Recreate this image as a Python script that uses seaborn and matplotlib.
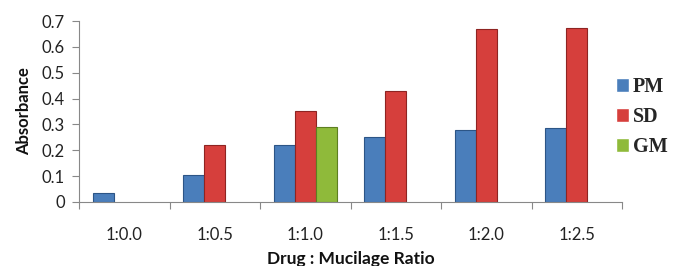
import matplotlib
matplotlib.use("Agg")
import matplotlib.pyplot as plt
import seaborn as sns
import numpy as np
import pandas as pd

categories = ["1:0.0", "1:0.5", "1:1.0", "1:1.5", "1:2.0", "1:2.5"]
pm = [0.035, 0.104, 0.219, 0.251, 0.277, 0.285]
sd = [np.nan, 0.220, 0.353, 0.430, 0.670, 0.674]
gm = [np.nan, np.nan, 0.291, np.nan, np.nan, np.nan]
series = ["PM", "SD", "GM"]
colors = {"PM": "#4a7ebb", "SD": "#d63f3c", "GM": "#8fba3a"}
edges = {"PM": "#2c5586", "SD": "#8e2422", "GM": "#5d7f21"}

rows = []
for name, vals in zip(series, [pm, sd, gm]):
    for c, v in zip(categories, vals):
        rows.append({"Ratio": c, "Series": name, "Absorbance": v})
df = pd.DataFrame(rows)

sns.set_theme(style="white")
plt.rcParams["font.family"] = ["Lato", "DejaVu Sans"]

fig = plt.figure(figsize=(6.73, 2.66), dpi=100)
ax = fig.add_axes([79/673, 1-202/266, (622-79)/673, (202-21)/266])

sns.barplot(data=df, x="Ratio", y="Absorbance", hue="Series", order=categories,
            hue_order=series, palette=colors, width=0.7, saturation=1,
            errorbar=None, ax=ax, legend=True)

for cont, name in zip(ax.containers, series):
    for p in cont:
        p.set_edgecolor(edges[name])
        p.set_linewidth(0.8)

ax.set_ylim(0, 0.7)
ax.set_xlim(-0.5, 5.5)
yt = np.arange(0, 0.71, 0.1)
ax.set_yticks(yt)
ax.set_yticklabels(["0"] + [f"{v:.1f}" for v in yt[1:]], fontsize=12, color="#222222")
ax.set_xticks(range(len(categories)))
ax.set_xticklabels(categories, fontsize=12, color="#222222")
ax.tick_params(axis="x", which="major", length=0, pad=18)
ax.set_xticks(np.arange(-0.5, 6, 1), minor=True)
ax.tick_params(axis="x", which="minor", length=5, width=0.8, color="#888888", direction="out", bottom=True)
ax.tick_params(axis="y", length=5, width=0.8, color="#888888", direction="out", left=True, pad=5)

for s in ["top", "right"]:
    ax.spines[s].set_visible(False)
for s in ["left", "bottom"]:
    ax.spines[s].set_color("#888888")
    ax.spines[s].set_linewidth(0.8)

ax.set_ylabel("Absorbance", fontsize=12, fontweight="bold", color="#111111", labelpad=7)
ax.set_xlabel("Drug : Mucilage Ratio", fontsize=12.5, fontweight="bold", color="#111111", labelpad=6)

handles, labels = ax.get_legend_handles_labels()
ax.legend(handles, labels, loc="upper left", bbox_to_anchor=(616/673, 1-77/266),
          bbox_transform=fig.transFigure, frameon=False,
          prop={"family": "Liberation Serif", "weight": "bold", "size": 14.5},
          handlelength=0.65, handleheight=0.65, handletextpad=0.2, labelspacing=0.5,
          borderaxespad=0, borderpad=0)

fig.savefig("out.png", dpi=100)
